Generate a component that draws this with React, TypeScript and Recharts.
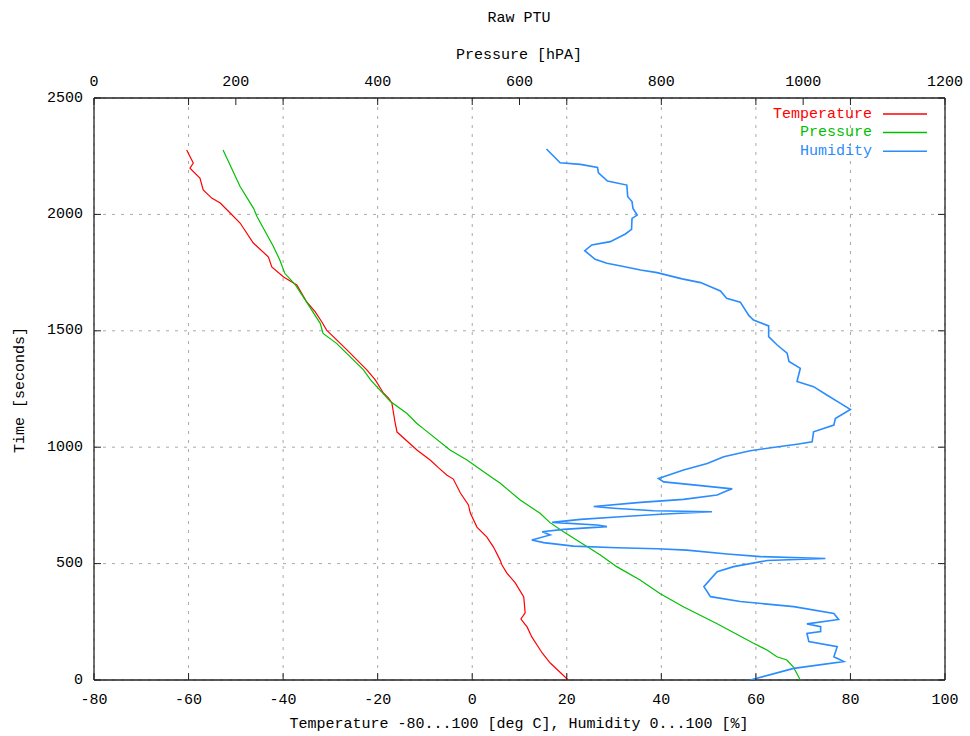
import React from "react";
import { ScatterChart, Scatter, XAxis, YAxis, CartesianGrid } from "recharts";

const tempTime = [0, 73, 116, 185, 228, 262, 288, 357, 417, 460, 494, 515, 571, 614, 657, 717, 752, 803, 863, 881, 911, 945, 988, 1065, 1104, 1190, 1211, 1233, 1289, 1332, 1418, 1503, 1538, 1581, 1624, 1697, 1731, 1774, 1817, 1877, 1963, 2006, 2049, 2070, 2105, 2156, 2199, 2221, 2277];
const tempDegC = [20.3, 16.5, 14.8, 12.6, 11.6, 10.3, 11.2, 10.9, 9.1, 7.3, 6.3, 5.9, 4.5, 3.1, 1.0, -0.4, -0.8, -2.5, -4.0, -5.4, -7.1, -8.9, -11.7, -15.9, -16.3, -17.0, -17.7, -18.8, -20.5, -22.3, -26.5, -30.8, -31.8, -33.2, -35.0, -37.1, -39.9, -42.4, -43.1, -46.3, -49.1, -51.2, -53.3, -55.1, -56.9, -57.6, -59.7, -59.0, -60.4];

const pressTime = [0, 57, 86, 100, 129, 158, 243, 315, 372, 430, 487, 537, 573, 637, 676, 716, 773, 845, 866, 945, 988, 1081, 1103, 1146, 1196, 1289, 1332, 1446, 1489, 1532, 1632, 1697, 1747, 1804, 1862, 1990, 2026, 2120, 2277];
const pressHpa = [996, 986, 977, 963, 949, 930, 878, 831, 798, 770, 737, 714, 695, 662, 643, 629, 601, 573, 563, 526, 502, 464, 455, 441, 418, 390, 380, 342, 323, 319, 298, 284, 269, 262, 253, 230, 225, 206, 182];

const humTime = [0, 50, 79, 100, 143, 165, 200, 208, 229, 241, 260, 286, 315, 337, 358, 401, 465, 487, 513, 522, 530, 541, 558, 564, 568, 575, 590, 601, 623, 637, 647, 659, 666, 677, 690, 701, 712, 723, 727, 738, 745, 763, 776, 795, 813, 821, 838, 851, 866, 902, 930, 959, 985, 1005, 1013, 1023, 1066, 1095, 1123, 1162, 1188, 1224, 1260, 1282, 1339, 1368, 1404, 1439, 1475, 1521, 1546, 1566, 1623, 1640, 1671, 1707, 1723, 1750, 1761, 1776, 1790, 1807, 1844, 1869, 1883, 1916, 1936, 1983, 1997, 2026, 2055, 2076, 2126, 2143, 2179, 2202, 2215, 2222, 2281];
const humPct = [58.8, 68.0, 78.6, 76.5, 77.2, 71.2, 70.8, 73.7, 73.7, 70.8, 77.5, 76.5, 68.0, 56.7, 50.4, 49.0, 51.8, 55.3, 62.4, 74.7, 61.0, 53.9, 45.4, 39.1, 30.6, 21.4, 15.1, 12.6, 16.5, 14.8, 19.3, 28.5, 26.4, 16.9, 22.9, 31.3, 39.8, 50.7, 38.4, 29.9, 25.7, 35.6, 44.7, 51.8, 53.9, 55.0, 46.8, 40.5, 39.4, 44.7, 49.7, 53.2, 58.8, 65.9, 68.7, 71.9, 72.2, 76.5, 76.8, 80.0, 77.9, 75.0, 72.2, 68.7, 69.4, 67.0, 66.6, 64.5, 62.7, 62.7, 59.5, 58.5, 56.7, 53.8, 52.5, 48.3, 44.4, 39.1, 35.6, 32.0, 28.5, 26.0, 23.8, 25.3, 29.2, 32.4, 33.7, 33.8, 34.9, 34.0, 33.8, 32.9, 32.7, 28.6, 26.7, 26.5, 22.9, 18.6, 15.7];

const timeTicks = [0, 500, 1000, 1500, 2000, 2500];
const tempTicks = [-80, -60, -40, -20, 0, 20, 40, 60, 80, 100];
const pressTicks = [0, 200, 400, 600, 800, 1000, 1200];

const RED = "#ff0000";
const GREEN = "#00c000";
const BLUE = "#2a8cff";
const FONT = "Liberation Mono";
const TICK = 7;

const toPoints = (ts: number[], vs: number[]) => ts.map((t, i) => ({ t, v: vs[i] }));
const tempData = toPoints(tempTime, tempDegC);
const pressData = toPoints(pressTime, pressHpa);
const humData = toPoints(humTime, humPct);

// gnuplot mirrors the bottom tics on the top border; place them on the pressure axis too
const mirrorTicks = tempTicks.map((c) => ((c + 80) / 180) * 1200);
const topTicks = [...pressTicks, ...mirrorTicks.filter((p) => !pressTicks.some((q) => Math.abs(q - p) < 0.01))].sort((a, b) => a - b);

const BottomTick = (props: any) => {
  const { x, y, payload } = props;
  return (
    <g>
      <line x1={x} y1={y} x2={x} y2={y - TICK} stroke="#222" />
      <text x={x} y={y + 20} textAnchor="middle" dominantBaseline="central" fontFamily={FONT} fontSize={15} fill="#000">
        {payload.value}
      </text>
    </g>
  );
};

const TopTick = (props: any) => {
  const { x, y, payload } = props;
  const labelled = pressTicks.some((q) => Math.abs(q - payload.value) < 0.01);
  return (
    <g>
      <line x1={x} y1={y} x2={x} y2={y + TICK} stroke="#222" />
      {labelled && (
        <text x={x} y={y - 16} textAnchor="middle" dominantBaseline="central" fontFamily={FONT} fontSize={15} fill="#000">
          {Math.round(payload.value)}
        </text>
      )}
    </g>
  );
};

const LeftTick = (props: any) => {
  const { x, y, payload } = props;
  return (
    <g>
      <line x1={x} y1={y} x2={x + TICK} y2={y} stroke="#222" />
      <text x={x - 11} y={y} textAnchor="end" dominantBaseline="central" fontFamily={FONT} fontSize={15} fill="#000">
        {payload.value}
      </text>
    </g>
  );
};

const RightTick = (props: any) => {
  const { x, y } = props;
  return <line x1={x} y1={y} x2={x - TICK} y2={y} stroke="#222" />;
};

const noDot = () => <g />;

const legendRows = [
  { name: "Temperature", color: RED },
  { name: "Pressure", color: GREEN },
  { name: "Humidity", color: BLUE },
];

export default function App() {
  return (
    <div style={{ position: "absolute", left: 0, top: 0, width: 970, height: 736, background: "#fff" }}>
      <ScatterChart width={970} height={736} margin={{ top: 0, right: 0, bottom: 0, left: 0 }}>
        <CartesianGrid xAxisId="temp" yAxisId="time" stroke="#a8a8a8" strokeDasharray="3 6" />
        <XAxis
          xAxisId="temp"
          dataKey="v"
          type="number"
          orientation="bottom"
          domain={[-80, 100]}
          ticks={tempTicks}
          interval={0}
          height={56}
          tickSize={0}
          tickMargin={0}
          tick={<BottomTick />}
          axisLine={{ stroke: "#222", strokeWidth: 1.3 }}
          allowDataOverflow
        />
        <XAxis
          xAxisId="press"
          dataKey="v"
          type="number"
          orientation="top"
          domain={[0, 1200]}
          ticks={topTicks}
          interval={0}
          height={98}
          tickSize={0}
          tickMargin={0}
          tick={<TopTick />}
          axisLine={{ stroke: "#222", strokeWidth: 1.3 }}
          allowDataOverflow
        />
        <YAxis
          yAxisId="time"
          dataKey="t"
          type="number"
          orientation="left"
          domain={[0, 2500]}
          ticks={timeTicks}
          interval={0}
          width={94}
          tickSize={0}
          tickMargin={0}
          tick={<LeftTick />}
          axisLine={{ stroke: "#222", strokeWidth: 1.3 }}
          allowDataOverflow
        />
        <YAxis
          yAxisId="timeR"
          dataKey="t"
          type="number"
          orientation="right"
          domain={[0, 2500]}
          ticks={timeTicks}
          interval={0}
          width={25}
          tickSize={0}
          tickMargin={0}
          tick={<RightTick />}
          axisLine={{ stroke: "#222", strokeWidth: 1.3 }}
          allowDataOverflow
        />
        <Scatter
          name="Temperature"
          data={tempData}
          xAxisId="temp"
          yAxisId="time"
          fill={RED}
          line={{ stroke: RED, strokeWidth: 1.2 }}
          shape={noDot}
          isAnimationActive={false}
        />
        <Scatter
          name="Pressure"
          data={pressData}
          xAxisId="press"
          yAxisId="time"
          fill={GREEN}
          line={{ stroke: GREEN, strokeWidth: 1.2 }}
          shape={noDot}
          isAnimationActive={false}
        />
        <Scatter
          name="Humidity"
          data={humData}
          xAxisId="temp"
          yAxisId="time"
          fill={BLUE}
          line={{ stroke: BLUE, strokeWidth: 1.6 }}
          shape={noDot}
          isAnimationActive={false}
        />
      </ScatterChart>
      <svg width={970} height={736} style={{ position: "absolute", left: 0, top: 0, pointerEvents: "none" }}>
        <g fontFamily={FONT} fontSize={15} fill="#000">
          <text x={519} y={18} textAnchor="middle" dominantBaseline="central">Raw PTU</text>
          <text x={519} y={55} textAnchor="middle" dominantBaseline="central">Pressure [hPA]</text>
          <text x={519} y={724} textAnchor="middle" dominantBaseline="central">
            Temperature -80...100 [deg C], Humidity 0...100 [%]
          </text>
          <text x={20} y={390} textAnchor="middle" dominantBaseline="central" transform="rotate(-90 20 390)">
            Time [seconds]
          </text>
        </g>
        {legendRows.map((r, i) => {
          const y = 114 + i * 18.6;
          return (
            <g key={r.name}>
              <text x={872} y={y} textAnchor="end" dominantBaseline="central" fontFamily={FONT} fontSize={15} fill={r.color}>
                {r.name}
              </text>
              <line x1={883} y1={y} x2={927} y2={y} stroke={r.color} strokeWidth={1.5} />
            </g>
          );
        })}
      </svg>
    </div>
  );
}
